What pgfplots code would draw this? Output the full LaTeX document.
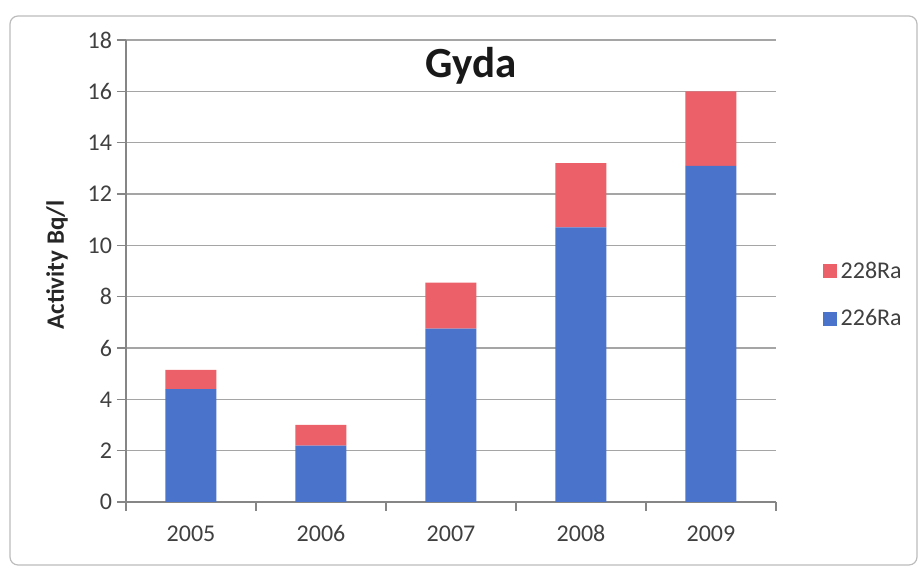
\documentclass[border=0pt]{standalone}
\usepackage{fontspec}
\setmainfont{Carlito}
\usepackage{pgfplots}
\pgfplotsset{compat=1.18}

\definecolor{raBlue}{RGB}{74,116,204}
\definecolor{raRed}{RGB}{236,96,106}
\definecolor{gridGray}{RGB}{165,165,165}
\definecolor{axisGray}{RGB}{134,134,134}
\definecolor{labelGray}{RGB}{64,64,64}

\begin{document}
\begin{tikzpicture}
\useasboundingbox (-63pt,-35pt) rectangle (396pt,251pt);
% chart frame
\draw[axisGray!55, line width=0.6pt, rounded corners=4pt] (-58pt,-31.5pt) rectangle (395.5pt,243pt);
\begin{axis}[
  at={(0,0)}, anchor=south west,
  width=325pt, height=231pt, scale only axis,
  ybar stacked, bar width=25.5pt,
  xmin=-0.5, xmax=4.5, ymin=0, ymax=18,
  ytick={0,2,...,18},
  xtick={-0.5,0.5,...,4.5},
  x tick label as interval,
  xticklabels={2005,2006,2007,2008,2009},
  axis x line*=bottom, axis y line*=left,
  axis line style={axisGray, line width=0.6pt},
  tick align=outside, major tick length=4.5pt,
  tick style={axisGray, line width=0.6pt},
  ymajorgrids, grid style={gridGray, line width=0.6pt},
  ticklabel style={font=\fontsize{12}{14}\selectfont, text=labelGray},
  xticklabel style={text height=8.5pt, text depth=0pt, yshift=-3pt},
  yticklabel style={xshift=1pt},
  /pgf/number format/assume math mode=true,
  ylabel={Activity Bq/l},
  ylabel style={font=\bfseries\fontsize{12.5}{15}\selectfont, text=black!85,
    at={(axis description cs:-0.106,0.513)}, anchor=center},
  legend style={at={(axis description cs:1.062,0.448)}, anchor=west,
    draw=none, fill=none, font=\fontsize{12}{14}\selectfont, text=labelGray,
    row sep=10pt},
  legend cell align=left,
  reverse legend,
  legend image code/.code={\fill[#1] (0pt,-3.5pt) rectangle (7pt,3.5pt);},
]
\addplot[fill=raBlue, draw=none] coordinates {(0,4.4) (1,2.2) (2,6.75) (3,10.7) (4,13.1)};
\addlegendentry{226Ra}
\addplot[fill=raRed, draw=none] coordinates {(0,0.75) (1,0.8) (2,1.8) (3,2.5) (4,2.9)};
\addlegendentry{228Ra}
\node[font=\bfseries\fontsize{21.5}{25}\selectfont, anchor=base, text=black!90]
  at (axis description cs:0.531,0.918) {Gyda};
\end{axis}
\end{tikzpicture}
\end{document}
